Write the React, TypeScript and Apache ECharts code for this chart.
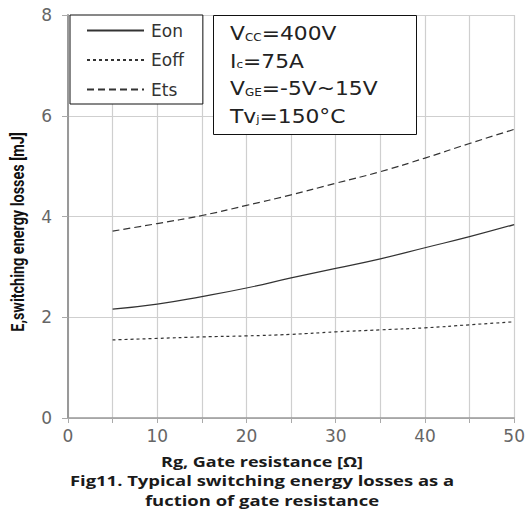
import React, { useEffect, useRef } from "react";
import * as echarts from "echarts";

const rgValues = [5, 10, 15, 20, 25, 30, 35, 40, 45, 50];
const eonValues = [2.16, 2.26, 2.41, 2.58, 2.78, 2.97, 3.16, 3.38, 3.6, 3.84];
const eoffValues = [1.55, 1.58, 1.61, 1.63, 1.66, 1.71, 1.75, 1.79, 1.85, 1.91];
const etsValues = [3.71, 3.86, 4.02, 4.22, 4.43, 4.66, 4.89, 5.16, 5.45, 5.73];
const seriesNames = ["Eon", "Eoff", "Ets"];

const xAxisTitle = "Rg, Gate resistance [Ω]";
const yAxisTitle = "E,switching energy losses [mJ]";
const captionLines = ["Fig11. Typical switching energy losses as a", "fuction of gate resistance"];

export default function App() {
  const ref = useRef<HTMLDivElement>(null);
  useEffect(() => {
    if (!ref.current) return;
    const chart = echarts.init(ref.current, null, { renderer: "svg" });
    const lineColor = "#333";
    const mk = (vals: number[]) => rgValues.map((x, i) => [x, vals[i]]);
    const annFont = "DejaVu Sans";
    const capFont = "bold 15px 'Open Sans', sans-serif";
    chart.setOption({
      animation: false,
      backgroundColor: "#fff",
      grid: { left: 68, right: 12, top: 15, bottom: 93 },
      legend: {
        orient: "vertical",
        left: 70,
        top: 15,
        data: seriesNames,
        itemWidth: 57,
        itemHeight: 14,
        itemGap: 12.5,
        padding: [7, 19, 6, 16],
        borderColor: "#111",
        borderWidth: 1,
        backgroundColor: "#fff",
        itemStyle: { opacity: 0 },
        textStyle: { fontSize: 17, color: "#333", fontFamily: annFont, padding: [0, 0, 0, 2] },
        z: 20,
      },
      xAxis: {
        type: "value",
        min: 0,
        max: 50,
        interval: 10,
        axisLine: { show: true, lineStyle: { color: "#999", width: 1.5 } },
        axisTick: { show: true, length: 5, lineStyle: { color: "#aaa" } },
        minorTick: { show: true, splitNumber: 2, length: 5, lineStyle: { color: "#aaa" } },
        splitLine: { show: true, lineStyle: { color: "#cfcfcf", width: 1.2 } },
        minorSplitLine: { show: true, lineStyle: { color: "#cfcfcf", width: 1.2 } },
        axisLabel: { fontSize: 17, color: "#666", margin: 9, fontFamily: annFont },
      },
      yAxis: {
        type: "value",
        min: 0,
        max: 8,
        interval: 2,
        axisLine: { show: true, lineStyle: { color: "#999", width: 2 } },
        axisTick: { show: true, length: 6, lineStyle: { color: "#aaa" } },
        splitLine: { show: true, lineStyle: { color: "#cfcfcf", width: 1.2 } },
        axisLabel: { fontSize: 17, color: "#666", margin: 16, fontFamily: annFont },
      },
      series: [
        {
          name: seriesNames[0],
          type: "line",
          data: mk(eonValues),
          smooth: true,
          symbol: "none",
          lineStyle: { color: lineColor, width: 1.2, type: "solid" },
          itemStyle: { color: lineColor },
        },
        {
          name: seriesNames[1],
          type: "line",
          data: mk(eoffValues),
          smooth: true,
          symbol: "none",
          lineStyle: { color: lineColor, width: 1.2, type: [3, 3] },
          itemStyle: { color: lineColor },
        },
        {
          name: seriesNames[2],
          type: "line",
          data: mk(etsValues),
          smooth: true,
          symbol: "none",
          lineStyle: { color: lineColor, width: 1.2, type: [7, 4] },
          itemStyle: { color: lineColor },
        },
      ],
      graphic: [
        {
          type: "rect",
          z: 30,
          shape: { x: 213.5, y: 15.5, width: 203, height: 119 },
          style: { fill: "#fff", stroke: "#111", lineWidth: 1 },
        },
        {
          type: "text",
          z: 31,
          x: 230,
          y: 20,
          scaleX: 1.09,
          style: {
            text:
              "{n|V}{s|CC}{n|=400V}\n{n|I}{s|c}{n|=75A}\n{n|V}{s|GE}{n|=-5V~15V}\n{n|Tv}{s|j}{n|=150°C}",
            fill: "#222",
            rich: {
              n: { fontSize: 20, fontFamily: annFont, color: "#222", lineHeight: 27.5 },
              s: { fontSize: 11, fontFamily: annFont, color: "#222", lineHeight: 11, verticalAlign: "middle", padding: [6, 0, 0, 0] },
            },
          },
        },
        {
          type: "text",
          x: 17.5,
          y: 232,
          rotation: Math.PI / 2,
          scaleX: 1.03,
          scaleY: 1.25,
          style: {
            text: yAxisTitle,
            fill: "#111",
            font: "bold 14px Roboto, sans-serif",
            align: "center",
            verticalAlign: "middle",
          },
        },
        {
          type: "text",
          x: 262,
          y: 461,
          scaleX: 1.2,
          style: { text: xAxisTitle, fill: "#1a1a1a", font: capFont, align: "center", verticalAlign: "middle" },
        },
        {
          type: "text",
          x: 262,
          y: 480,
          scaleX: 1.23,
          style: { text: captionLines[0], fill: "#1a1a1a", font: capFont, align: "center", verticalAlign: "middle" },
        },
        {
          type: "text",
          x: 262,
          y: 500,
          scaleX: 1.23,
          style: { text: captionLines[1], fill: "#1a1a1a", font: capFont, align: "center", verticalAlign: "middle" },
        },
      ],
    });
    return () => chart.dispose();
  }, []);
  return (
    <div
      ref={ref}
      style={{ position: "fixed", left: 0, top: 0, width: 528, height: 511 }}
    />
  );
}
